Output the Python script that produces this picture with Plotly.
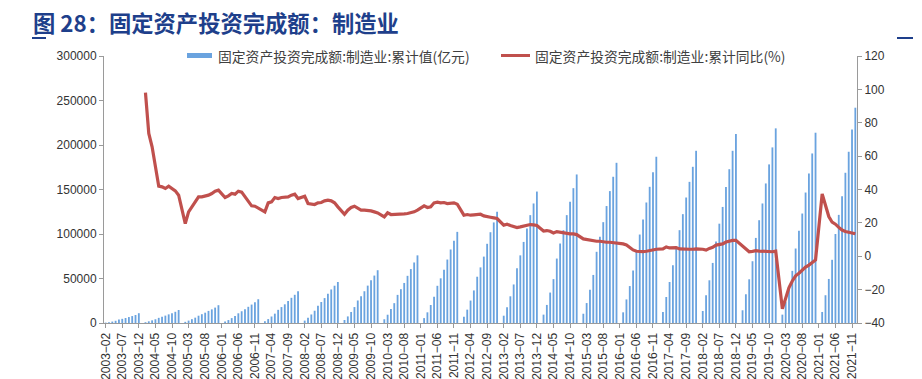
import plotly.graph_objects as go

# ---- categories (months 2003-02 .. 2021-12) ----
months = [f"{y}-{m:02d}" for y in range(2003, 2022) for m in range(1, 13)]
categories = months[1:]  # start at 2003-02
tick_labels = categories[::5]

# ---- series: cumulative value (亿元), Jan-Dec per row, January not published ----
cum_value = [
    # 2003 (from Feb)
          450, 900, 1600, 2500, 3800, 4700, 5600, 6700, 7800, 9000, 11000,
    None, 900, 1900, 3000, 4200, 5800, 7000, 8300, 9700, 11000, 12600, 14600,      # 2004
    None, 1300, 2700, 4300, 6000, 8200, 9900, 11600, 13600, 15300, 17300, 20000,   # 2005
    None, 1600, 3300, 5500, 7800, 10900, 13200, 15500, 18200, 20700, 23300, 26700, # 2006
    None, 2000, 4400, 7300, 10500, 14800, 17900, 21000, 24700, 28300, 31700, 35600,# 2007
    None, 2700, 5800, 9600, 13800, 19500, 23600, 28000, 33000, 37700, 41900, 46100,# 2008
    None, 3400, 7400, 12400, 17900, 25300, 30100, 35700, 42000, 47900, 53300, 59300,   # 2009
    None, 4200, 9300, 15600, 22300, 31600, 38000, 45000, 53000, 60600, 68000, 76000,   # 2010
    None, 5500, 12000, 20200, 29400, 41800, 50200, 59800, 71300, 82600, 92300, 102400, # 2011
    None, 6900, 15000, 25200, 36600, 52000, 62500, 74600, 89000, 102000, 113000, 124900,   # 2012
    None, 8200, 17800, 30000, 43300, 61500, 76000, 91100, 106200, 121200, 134300, 147700,  # 2013
    None, 9400, 20300, 34200, 49300, 72400, 89300, 104300, 121200, 136100, 151500, 166900, # 2014
    None, 10400, 22400, 37400, 54000, 80000, 97000, 113300, 131400, 148200, 164300, 180000,# 2015
    None, 12000, 26500, 41500, 59000, 81000, 99400, 116300, 135400, 153000, 169500, 186800,# 2016
    None, 12500, 29200, 46100, 64900, 85500, 104300, 122300, 141000, 158600, 175500, 193500,   # 2017
    None, 13500, 31100, 48000, 67500, 91500, 111600, 130400, 152900, 172800, 193500, 212300,   # 2018
    None, 14300, 32300, 49100, 69400, 95600, 115500, 134300, 156800, 178200, 197300, 218700,   # 2019
    None, 9400, 24000, 40000, 58600, 83700, 103600, 123000, 146600, 168000, 190500, 213800,    # 2020
    None, 12400, 31200, 49500, 71000, 100000, 121500, 142300, 168800, 192400, 217500, 241900,  # 2021
]

# ---- series: cumulative YoY (%) ----
yoy_pct = [
    # 2003 (from Feb)
          None, None, None, None, None, None, None, None, None, None, None,
    None, 98, 73.6, 65.6, 53.6, 42, 41.6, 40.6, 42, 40.6, 39.2, 36.6,     # 2004
    None, 19.6, 26.6, 29.6, 32.6, 35.6, 35.6, 36, 36.6, 37.6, 39, 39.6,   # 2005
    None, 35.2, 36.2, 37.6, 37.2, 39, 38.4, 35.6, 32.6, 30.2, 30, 29,     # 2006
    None, 26.6, 32, 32.6, 35.2, 34.6, 35.2, 35.6, 35.6, 36.6, 37.2, 34.6, # 2007
    None, 36, 31.6, 31.2, 31, 32, 32.2, 33.2, 33.6, 33.2, 32, 29.6,       # 2008
    None, 25.2, 27.6, 29.2, 30, 29, 27.6, 27.6, 27.6, 27.2, 26.6, 26,     # 2009
    None, 23.6, 26, 25, 25, 25.2, 25.2, 25.4, 25.6, 26, 26.6, 27.6,       # 2010
    None, 30.2, 29.2, 29.6, 32, 32.4, 32, 32.2, 31.6, 31.6, 32, 31.2,     # 2011
    None, 24.6, 25, 24.6, 24.8, 25, 25.2, 24.2, 23.6, 23.4, 23, 22.6,     # 2012
    None, 18.6, 19.2, 18.4, 17.6, 17.2, 17.6, 18, 18.8, 19, 18.8, 18.4,   # 2013
    None, 15.1, 15.4, 15, 14, 14.8, 14.4, 13.8, 13.8, 13.4, 13.4, 13.0,   # 2014
    None, 10.4, 10, 9.8, 9.4, 9, 9, 8.6, 8.4, 8.4, 8.2, 8.0,              # 2015
    None, 7.4, 6.8, 5.4, 3.8, 3.0, 2.8, 2.8, 3, 3.4, 3.8, 4.2,            # 2016
    None, 4.4, 5.6, 5, 5, 5.2, 4.4, 4.2, 4.2, 4.2, 4.2, 4.4,              # 2017
    None, 4.2, 3.7, 4.7, 5.4, 6.7, 7.1, 7.4, 8.5, 9.1, 9.5, 9.5,          # 2018
    None, 5.9, 4.5, 2.7, 2.9, 3.3, 3.1, 2.9, 2.7, 2.7, 2.7, 3.1,          # 2019
    None, -31.5, -25.2, -18.8, -14.8, -11.7, -10.2, -8.1, -6.5, -5.3, -3.5, -2.2,  # 2020
    None, 37.3, 29.8, 23.8, 20.4, 19.2, 17.3, 15.7, 14.8, 14.2, 13.7, 13.5,        # 2021
]

bar_name = "固定资产投资完成额:制造业:累计值(亿元)"
line_name = "固定资产投资完成额:制造业:累计同比(%)"
title_text = "图 28：固定资产投资完成额：制造业"

BAR_COLOR = "#6AA3DF"
LINE_COLOR = "#C0504D"
AXIS_COLOR = "#9A9A9A"
TEXT_COLOR = "#333333"
TITLE_COLOR = "#1E3F8B"

W, H = 922, 379
L, R, T, B = 104, 65, 56, 56
PW, PH = W - L - R, H - T - B


def px(x):
    return (x - L) / PW


def py(y):
    return 1 - (y - T) / PH


fig = go.Figure()
fig.add_trace(go.Bar(
    x=categories, y=cum_value, name=bar_name,
    marker=dict(color=BAR_COLOR, line=dict(width=0)),
    yaxis="y", showlegend=False, hoverinfo="skip",
))
fig.add_trace(go.Scatter(
    x=categories, y=yoy_pct, name=line_name, mode="lines",
    line=dict(color=LINE_COLOR, width=3.2, shape="linear"),
    connectgaps=True, yaxis="y2", showlegend=False, hoverinfo="skip",
))

tick_font = dict(family="Liberation Sans, Arial, sans-serif", size=12, color=TEXT_COLOR)

fig.update_layout(
    width=W, height=H,
    margin=dict(l=L, r=R, t=T, b=B, autoexpand=False),
    paper_bgcolor="white", plot_bgcolor="white",
    bargap=0.45,
    template="none",
    showlegend=False,
    hovermode=False,
    xaxis=dict(
        type="category", categoryorder="array", categoryarray=categories,
        tickmode="array", tickvals=tick_labels,
        ticktext=[t.replace("-", "\u2212") for t in tick_labels],
        tickangle=-90, ticks="outside", ticklen=4, tickcolor=AXIS_COLOR,
        showline=True, linecolor=AXIS_COLOR, linewidth=1,
        showgrid=False, zeroline=False, automargin=False,
        tickfont=tick_font, range=[-0.5, len(categories) - 0.5],
    ),
    yaxis=dict(
        range=[0, 300000], dtick=50000, tick0=0,
        ticks="outside", ticklen=4, tickcolor=AXIS_COLOR,
        showline=True, linecolor=AXIS_COLOR, linewidth=1,
        showgrid=False, zeroline=False, automargin=False,
        tickfont=tick_font, tickformat="d",
    ),
    yaxis2=dict(
        range=[-40, 120], dtick=20, tick0=-40,
        overlaying="y", side="right",
        ticks="outside", ticklen=4, tickcolor=AXIS_COLOR,
        showline=True, linecolor=AXIS_COLOR, linewidth=1,
        showgrid=False, zeroline=False, automargin=False,
        tickfont=tick_font,
    ),
)

legend_font = dict(family="Noto Sans CJK SC, sans-serif", size=13.8, color="#404040")
shapes = [
    # legend swatches
    dict(type="rect", xref="paper", yref="paper",
         x0=px(187), x1=px(212), y0=py(58), y1=py(53),
         fillcolor=BAR_COLOR, line=dict(width=0)),
    dict(type="line", xref="paper", yref="paper",
         x0=px(501), x1=px(530), y0=py(55.5), y1=py(55.5),
         line=dict(color=LINE_COLOR, width=3)),
    # title decorations
    dict(type="line", xref="paper", yref="paper",
         x0=px(32), x1=px(46), y0=py(38), y1=py(38),
         line=dict(color=TITLE_COLOR, width=2)),
    dict(type="line", xref="paper", yref="paper",
         x0=px(897), x1=px(913), y0=py(38), y1=py(38),
         line=dict(color=TITLE_COLOR, width=2)),
]
annotations = [
    dict(text=bar_name, xref="paper", yref="paper", x=px(216), y=py(55.5),
         xanchor="left", yanchor="middle", showarrow=False, font=legend_font),
    dict(text=line_name, xref="paper", yref="paper", x=px(533), y=py(55.5),
         xanchor="left", yanchor="middle", showarrow=False, font=legend_font),
    dict(text=f"<b>{title_text}</b>", xref="paper", yref="paper", x=px(31), y=py(22),
         xanchor="left", yanchor="middle", showarrow=False,
         font=dict(family="Noto Sans CJK SC, sans-serif", size=22.3, color=TITLE_COLOR)),
]
fig.update_layout(shapes=shapes, annotations=annotations)

fig.write_html(
    "out.html",
    config={"displayModeBar": False, "staticPlot": True},
    post_script="document.body.style.margin='0';document.body.style.overflow='hidden';",
)
